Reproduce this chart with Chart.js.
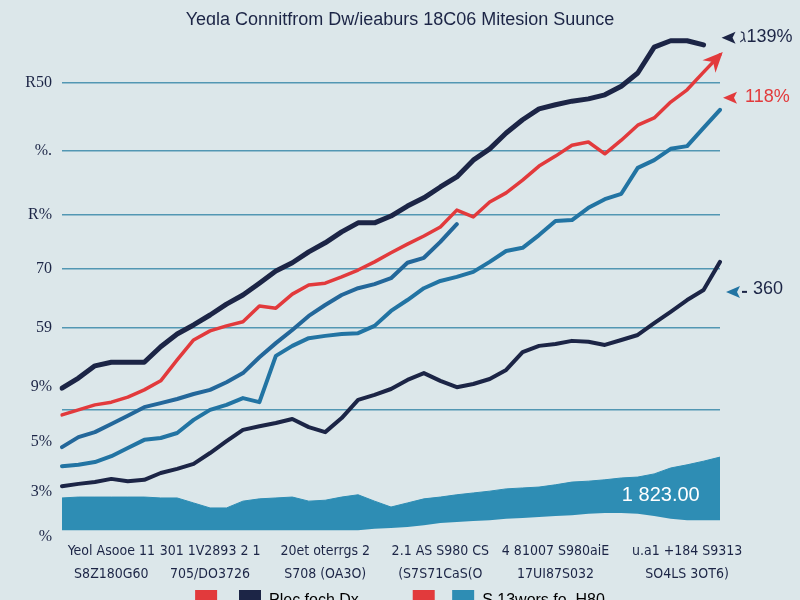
<!DOCTYPE html>
<html>
<head>
<meta charset="utf-8">
<script src="https://cdn.jsdelivr.net/npm/chart.js@4.4.1/dist/chart.umd.min.js"></script>
<style>
    html, body { margin: 0; padding: 0; background: #dce7ea; overflow: hidden; }
    #wrap { width: 800px; height: 600px; overflow: hidden; }
</style>
</head>
<body>
<div id="wrap"><canvas id="trendChart" width="800" height="622"></canvas></div>
<script>
const titleText = 'Yeɑla Connitfrom Dw/ieaburs 18C06 Mitesion Suunce';

// x axis: only a few positions carry a (two-line) label
const tickAt = [3, 9, 16, 23, 30, 38];
const tickRow1 = ['Yeol Asooe 11', '301 1V2893 2 1', '20et oterrgs 2', '2.1 AS S980 CS', '4 81007 S980aiE', 'u.a1 +184 S9313'];
const tickRow2 = ['S8Z180G60', '705/DO3726', 'S708 (OA3O)', '(S7S71CaS(O', '17UI87S032', 'SO4LS 3OT6)'];

const yTicks = [0, 10, 21, 28, 33, 46, 59, 71, 85, 100];
const yTickLabels = ['%', '3%', '5%', '', '9%', '59', '70', 'R%', '%.', 'R50'];
const gridLevels = [28, 46, 59, 71, 85, 100];

const navyTop = [32.8, 35.0, 37.7, 38.5, 38.5, 38.5, 41.9, 44.7, 46.7, 48.9, 51.3, 53.3, 55.9, 58.6, 60.4, 62.8, 64.8, 67.2, 69.2, 69.2, 70.7, 72.9, 74.7, 77.1, 79.3, 83.0, 85.5, 89.0, 91.9, 94.3, 95.2, 96.0, 96.5, 97.4, 99.3, 102.2, 107.9, 109.3, 109.3, 108.4, null];
const redLine = [26.9, 28.0, 29.1, 29.7, 30.8, 32.4, 34.4, 39.0, 43.4, 45.4, 46.5, 47.4, 50.9, 50.4, 53.5, 55.5, 55.9, 57.3, 58.8, 60.6, 62.6, 64.5, 66.3, 68.3, 72.0, 70.5, 73.8, 75.8, 78.6, 81.7, 83.9, 86.3, 87.0, 84.4, 87.4, 90.7, 92.3, 95.8, 98.5, 102.4, 106.2];
const tealUpper = [19.8, 22.0, 23.1, 24.9, 26.7, 28.6, 29.5, 30.4, 31.5, 32.4, 34.1, 36.1, 39.6, 42.7, 45.6, 48.7, 51.1, 53.3, 54.8, 55.7, 57.0, 60.4, 61.5, 65.0, 68.9, null, null, null, null, null, null, null, null, null, null, null, null, null, null, null, null];
const tealLong = [15.6, 15.9, 16.5, 17.8, 19.6, 21.4, 21.8, 22.9, 25.8, 28.0, 29.1, 30.6, 29.7, 39.9, 42.1, 43.8, 44.3, 44.7, 44.9, 46.5, 49.8, 52.2, 54.8, 56.4, 57.3, 58.4, 60.6, 63.0, 63.7, 66.5, 69.6, 69.8, 72.5, 74.4, 75.6, 81.3, 83.0, 85.5, 86.1, 90.1, 94.1];
const navyLow = [11.2, 11.7, 12.1, 12.8, 12.3, 12.6, 14.1, 15.0, 16.1, 18.5, 21.1, 23.6, 24.4, 25.1, 26.0, 24.2, 23.1, 26.2, 30.2, 31.3, 32.6, 34.6, 36.1, 34.4, 33.0, 33.7, 34.8, 36.8, 40.7, 42.1, 42.5, 43.2, 43.0, 42.3, 43.4, 44.5, 47.1, 49.6, 52.2, 54.4, 60.6];
const areaTop = [8.6, 8.8, 8.8, 8.8, 8.8, 8.8, 8.6, 8.6, 7.5, 6.4, 6.4, 7.9, 8.4, 8.6, 8.8, 7.9, 8.1, 8.8, 9.3, 7.9, 6.6, 7.5, 8.4, 8.8, 9.3, 9.7, 10.1, 10.6, 10.8, 11.0, 11.5, 12.1, 12.3, 12.6, 13.0, 13.2, 13.9, 15.2, 15.9, 16.7, 17.6];
const areaBase = [1.5, 1.5, 1.5, 1.5, 1.5, 1.5, 1.5, 1.5, 1.5, 1.5, 1.5, 1.5, 1.5, 1.5, 1.5, 1.5, 1.5, 1.5, 1.5, 1.8, 2.0, 2.2, 2.6, 3.1, 3.3, 3.5, 3.7, 4.0, 4.2, 4.4, 4.6, 4.8, 5.1, 5.3, 5.3, 5.1, 4.6, 4.0, 3.7, 3.7, 3.7];

// trailing spaces keep the legend items apart the way the picture has them
const legendNames = ['  ', 'Plec foch Dx           ', ' ', 'S 13wors fo. H80'];

const NAVY = '#1c2546';
const RED = '#e23a3c';
const STEEL = '#23679a';
const TEAL = '#2274a3';
const AREA = '#2e8db4';
const GRID = '#5297b3';
const BG = '#dce7ea';
const legendColors = [RED, NAVY, RED, AREA];

const categories = navyTop.map((_, i) => {
    const k = tickAt.indexOf(i);
    return k < 0 ? '' : [tickRow1[k], tickRow2[k]];
});

function lastIndex(arr) {
    for (let i = arr.length - 1; i >= 0; i--) if (arr[i] !== null) return i;
    return -1;
}

const bgPlugin = {
    id: 'bg',
    beforeDraw(chart) {
        const c = chart.ctx;
        c.save();
        c.fillStyle = BG;
        c.fillRect(0, 0, chart.width, chart.height);
        c.restore();
    }
};

// end-of-line callouts and the value written inside the area
const calloutPlugin = {
    id: 'callouts',
    afterDatasetsDraw(chart) {
        const c = chart.ctx;
        const xs = chart.scales.x, ys = chart.scales.y;
        const tri = (x, y, color) => {
            c.fillStyle = color;
            c.beginPath();
            c.moveTo(x, y);
            c.lineTo(x + 14, y - 6);
            c.lineTo(x + 11, y);
            c.lineTo(x + 14, y + 6);
            c.closePath();
            c.fill();
        };
        c.save();
        c.textBaseline = 'middle';
        c.textAlign = 'left';

        let i = lastIndex(navyTop);
        let px = xs.getPixelForValue(i), py = ys.getPixelForValue(navyTop[i]);
        tri(px + 18, py - 7, NAVY);
        c.fillStyle = NAVY;
        c.font = '18px "Liberation Sans", sans-serif';
        c.fillText('ℷ139%', px + 36, py - 8);

        // red arrowhead at the end of the red line
        i = lastIndex(redLine);
        px = xs.getPixelForValue(i); py = ys.getPixelForValue(redLine[i]);
        const qx = xs.getPixelForValue(i - 1), qy = ys.getPixelForValue(redLine[i - 1]);
        const len = Math.hypot(px - qx, py - qy);
        const dx = (px - qx) / len, dy = (py - qy) / len;
        c.fillStyle = RED;
        c.beginPath();
        c.moveTo(px + dx * 4, py + dy * 4);
        c.lineTo(px - dx * 16 - dy * 9, py - dy * 16 + dx * 9);
        c.lineTo(px - dx * 10, py - dy * 10);
        c.lineTo(px - dx * 16 + dy * 9, py - dy * 16 - dx * 9);
        c.closePath();
        c.fill();
        tri(px + 3, py + 43, RED);
        c.fillStyle = RED;
        c.fillText('118%', px + 25, py + 42);

        i = lastIndex(navyLow);
        px = xs.getPixelForValue(i); py = ys.getPixelForValue(navyLow[i]);
        tri(px + 6, py + 30, TEAL);
        c.fillStyle = NAVY;
        c.fillRect(px + 22, py + 29, 5, 2);
        c.fillText('360', px + 33, py + 27);

        c.fillStyle = '#ffffff';
        c.textAlign = 'center';
        c.font = '20px "Liberation Sans", sans-serif';
        const k = 36.4;
        c.fillText('1 823.00', xs.getPixelForValue(k), ys.getPixelForValue((areaTop[36] + areaBase[36]) / 2));
        c.restore();
    }
};

const lineSet = (label, data, color, width) => ({
    label: label,
    data: data,
    borderColor: color,
    borderWidth: width,
    pointRadius: 0,
    tension: 0,
    fill: false,
    borderCapStyle: 'round',
    borderJoinStyle: 'round'
});

const ctx = document.getElementById('trendChart').getContext('2d');

const trendChart = new Chart(ctx, {
    type: 'line',
    data: {
        labels: categories,
        datasets: [
            lineSet('A', navyTop, NAVY, 5),
            lineSet('B', redLine, RED, 3.5),
            lineSet('C', tealUpper, STEEL, 4),
            lineSet('D', tealLong, TEAL, 4),
            lineSet('E', navyLow, NAVY, 4),
            {
                label: 'base',
                data: areaBase,
                borderWidth: 0,
                pointRadius: 0,
                fill: false
            },
            {
                label: 'area',
                data: areaTop,
                borderColor: AREA,
                borderWidth: 1,
                backgroundColor: AREA,
                pointRadius: 0,
                fill: '-1'
            }
        ]
    },
    options: {
        responsive: false,
        animation: false,
        layout: { padding: 0 },
        plugins: {
            title: {
                display: true,
                text: titleText,
                color: NAVY,
                font: { family: '"Liberation Sans", sans-serif', size: 18, weight: 'normal', lineHeight: 1.2 },
                padding: { top: 9, bottom: 7 }
            },
            legend: {
                display: true,
                position: 'bottom',
                labels: {
                    boxWidth: 22,
                    boxHeight: 22,
                    padding: 5,
                    color: NAVY,
                    font: { family: '"Liberation Sans", sans-serif', size: 16 },
                    generateLabels: () => legendNames.map((t, i) => ({
                        text: t,
                        fillStyle: legendColors[i],
                        strokeStyle: legendColors[i],
                        lineWidth: 0,
                        hidden: false
                    }))
                }
            },
            tooltip: { enabled: false }
        },
        scales: {
            x: {
                type: 'category',
                offset: false,
                grid: { display: false, drawTicks: false },
                border: { display: false },
                ticks: {
                    autoSkip: false,
                    maxRotation: 0,
                    padding: 2,
                    color: NAVY,
                    font: { family: '"Liberation Sans Narrow", "DejaVu Sans Condensed", sans-serif', size: 14, lineHeight: 1.7 }
                },
                afterFit(scale) { scale.height = 48; }
            },
            y: {
                type: 'linear',
                min: 0,
                max: 110,
                grid: {
                    drawTicks: false,
                    lineWidth: 1.5,
                    color: (c) => gridLevels.includes(c.tick.value) ? GRID : 'rgba(0,0,0,0)'
                },
                border: { display: false },
                afterBuildTicks(scale) { scale.ticks = yTicks.map(v => ({ value: v })); },
                ticks: {
                    padding: 10,
                    color: NAVY,
                    font: { family: '"Liberation Serif", serif', size: 16 },
                    callback: (v) => yTickLabels[yTicks.indexOf(v)]
                },
                afterFit(scale) { scale.width = 62; }
            },
            yR: {
                type: 'linear',
                position: 'right',
                grid: { display: false, drawTicks: false },
                border: { display: false },
                ticks: { display: false },
                afterFit(scale) { scale.width = 80; }
            }
        }
    },
    plugins: [bgPlugin, calloutPlugin]
});
</script>
</body>
</html>
